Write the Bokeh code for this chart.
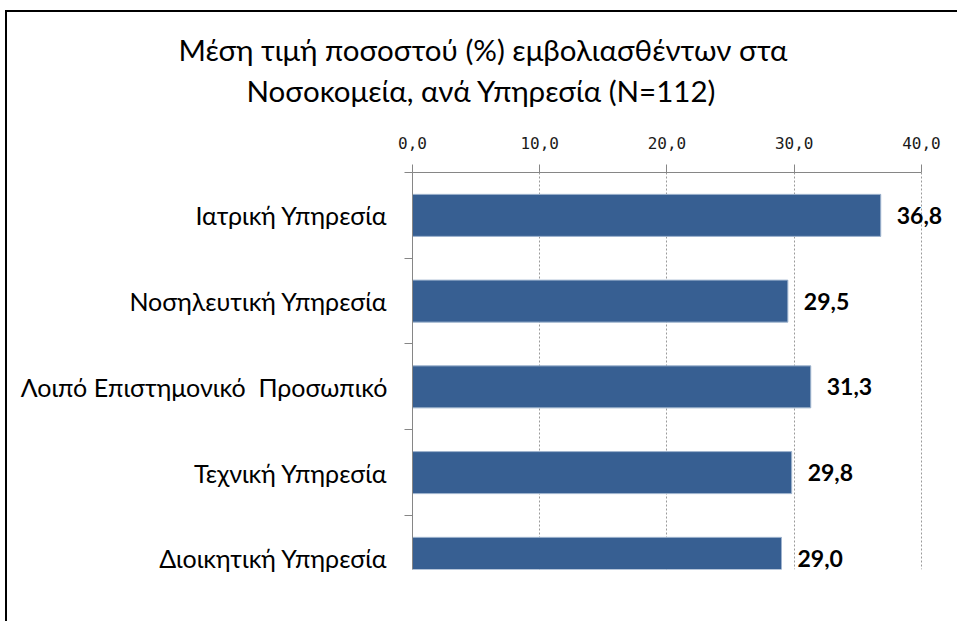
from bokeh.plotting import figure
from bokeh.models import (Range1d, FixedTicker, ColumnDataSource, LabelSet, Title)
from bokeh.core.properties import value
from bokeh.embed import file_html
from bokeh.resources import INLINE

# ---- data ----
categories = ["Ιατρική Υπηρεσία", "Νοσηλευτική Υπηρεσία",
              "Λοιπό Επιστημονικό\u00a0 Προσωπικό", "Τεχνική Υπηρεσία",
              "Διοικητική Υπηρεσία"]
values = [36.8, 29.5, 31.3, 29.8, 29.0]
value_labels = ["36,8", "29,5", "31,3", "29,8", "29,0"]
x_ticks = [0, 10, 20, 30, 40]
x_tick_labels = ["0,0", "10,0", "20,0", "30,0", "40,0"]
title_lines = ["Μέση τιμή ποσοστού (%) εμβολιασθέντων στα",
               "Νοσοκομεία, ανά Υπηρεσία (N=112)"]

positions = list(range(len(categories)))
FONT = "Lato"
BAR = "#375F92"
GRID = "#9A9A9A"
AXIS = "#868686"

source = ColumnDataSource(dict(y=positions, v=values, lab=value_labels))

p = figure(width=952, height=611, output_backend="svg", toolbar_location=None,
           x_range=Range1d(0, 42.99), y_range=Range1d(4.13, -0.5),
           x_axis_location="above",
           min_border_left=405, min_border_right=0,
           min_border_top=160, min_border_bottom=54)
p.margin = (10, 0, 0, 5)
p.outline_line_color = None
p.background_fill_color = "white"
p.border_fill_color = "white"
p.styles = {"border-left": "2px solid black", "border-top": "2px solid black"}

p.hbar(y="y", right="v", left=0, height=0.49, source=source,
       fill_color=BAR, line_color="#9FB4CE", line_width=1)

# top x axis
xa = p.xaxis[0]
xa.ticker = FixedTicker(ticks=x_ticks, minor_ticks=[])
xa.bounds = (x_ticks[0], x_ticks[-1])
xa.major_label_overrides = {t: l for t, l in zip(x_ticks, x_tick_labels)}
xa.major_label_text_font = "DejaVu Sans Mono"
xa.major_label_text_font_size = "16px"
xa.major_label_text_color = "#1a1a1a"
xa.major_label_standoff = 16
xa.major_tick_out = 8
xa.major_tick_in = 0
xa.major_tick_line_color = AXIS
xa.axis_line_color = AXIS
xa.minor_tick_line_color = None

# left y axis
ya = p.yaxis[0]
ya.ticker = FixedTicker(ticks=positions, minor_ticks=[-0.5, 0.5, 1.5, 2.5, 3.5])
ya.major_label_overrides = {i: c for i, c in zip(positions, categories)}
ya.major_label_text_font = FONT
ya.major_label_text_font_size = "25px"
ya.major_label_text_color = "#000000"
ya.major_label_standoff = 17
ya.major_tick_line_color = None
ya.major_tick_out = 0
ya.minor_tick_out = 8
ya.minor_tick_in = 0
ya.minor_tick_line_color = AXIS
ya.axis_line_color = AXIS

p.xgrid.ticker = FixedTicker(ticks=x_ticks)
p.xgrid.grid_line_color = GRID
p.xgrid.grid_line_dash = "2 2"
p.ygrid.grid_line_color = None

labels = LabelSet(x="v", y="y", text="lab", source=source, x_offset=16,
                  text_baseline="middle", text_font=value(FONT),
                  text_font_size="23px", text_font_style="bold",
                  text_color="#000000")
p.add_layout(labels)

# spacer between the axis and the title lines
p.add_layout(Title(text=" ", text_font_size="1px", standoff=21), "above")
# two-line title, nearest line added first
for line, off in zip(reversed(title_lines), [-166, -234]):
    p.add_layout(Title(text=line, align="left", offset=off,
                       text_font=FONT, text_font_size="29.5px",
                       text_font_style="normal", text_color="#000000",
                       standoff=4), "above")

open("out.html", "w").write(file_html(p, INLINE))
